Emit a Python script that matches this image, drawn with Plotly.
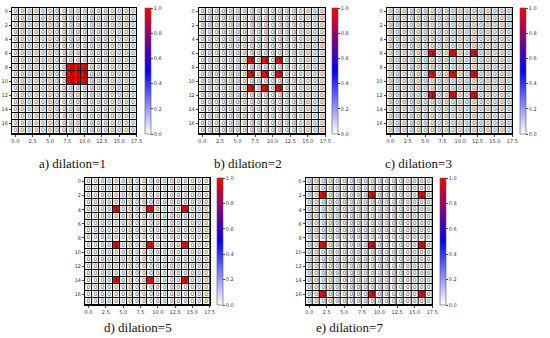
import plotly.graph_objects as go

W, H = 550, 338
N = 18

captions = ["a) dilation=1", "b) dilation=2", "c) dilation=3", "d) dilation=5", "e) dilation=7"]
hot_rows = [[8, 9, 10], [7, 9, 11], [6, 9, 12], [4, 9, 14], [2, 9, 16]]
hot_cols = [[8, 9, 10], [7, 9, 11], [6, 9, 12], [4, 9, 14], [2, 9, 16]]
x_ticks = [0.0, 2.5, 5.0, 7.5, 10.0, 12.5, 15.0, 17.5]
x_ticklabels = ["0.0", "2.5", "5.0", "7.5", "10.0", "12.5", "15.0", "17.5"]
y_ticks = [0, 2, 4, 6, 8, 10, 12, 14, 16]
cbar_ticks = [0.0, 0.2, 0.4, 0.6, 0.8, 1.0]

# layout in pixels: (plot left, plot right, plot top, plot bottom, cbar left, caption x, caption y)
panels = [
    (12, 138, 8, 134, 147, 73, 163),
    (201, 329, 8, 134, 336, 251, 163),
    (391, 518, 8, 134, 526, 423, 163),
    (86, 212, 178, 305, 219, 140, 327),
    (309, 437, 178, 305, 445, 353, 327),
]

colorscale = [[0.0, "#ffffff"], [0.5, "#0000ff"], [1.0, "#ff0000"]]
tfont = dict(size=5, color="#333", family="DejaVu Sans")

fig = go.Figure()
for i, (rows, cols) in enumerate(zip(hot_rows, hot_cols)):
    z = [[0] * N for _ in range(N)]
    for r in rows:
        for c in cols:
            z[r][c] = 1
    l, r_, t, b, cbl, cx, cy = panels[i]
    ax = "" if i == 0 else str(i + 1)
    fig.add_trace(go.Heatmap(
        z=z, x=list(range(N)), y=list(range(N)),
        colorscale=colorscale, zmin=0, zmax=1,
        xgap=1, ygap=1, hoverinfo="skip",
        xaxis="x" + ax, yaxis="y" + ax,
        colorbar=dict(
            x=cbl / W, xanchor="left", y=1 - t / H, yanchor="top",
            len=(b - t) / H, lenmode="fraction", thickness=6, thicknessmode="pixels",
            outlinewidth=0.6, outlinecolor="#555",
            tickvals=cbar_ticks, ticktext=[f"{v:.1f}" for v in cbar_ticks],
            ticks="outside", ticklen=2, tickwidth=0.5,
            tickfont=tfont, xpad=0, ypad=0,
        ),
        showscale=True,
    ))
    xs, ys, ts, cs = [], [], [], []
    for rr in range(N):
        for cc in range(N):
            xs.append(cc)
            ys.append(rr)
            ts.append(str(z[rr][cc]))
            cs.append("#111" if z[rr][cc] else "#555")
    fig.add_trace(go.Scatter(
        x=xs, y=ys, text=ts, mode="text", textposition="middle center",
        textfont=dict(size=6, color=cs, family="DejaVu Sans"),
        xaxis="x" + ax, yaxis="y" + ax, hoverinfo="skip", showlegend=False,
    ))
    fig.layout["xaxis" + ax] = dict(
        domain=[l / W, r_ / W], range=[-0.5, 17.5], anchor="y" + ax,
        tickvals=x_ticks, ticktext=x_ticklabels, ticks="outside", ticklen=2,
        tickfont=tfont,
        showgrid=False, zeroline=False, showline=True, linecolor="black", linewidth=1, mirror=True,
    )
    fig.layout["yaxis" + ax] = dict(
        domain=[1 - b / H, 1 - t / H], range=[17.5, -0.5], anchor="x" + ax,
        tickvals=y_ticks, ticks="outside", ticklen=2,
        tickfont=tfont,
        showgrid=False, zeroline=False, showline=True, linecolor="black", linewidth=1, mirror=True,
    )
    fig.add_annotation(
        text=captions[i], x=cx / W, y=1 - cy / H, xref="paper", yref="paper",
        xanchor="center", yanchor="middle", showarrow=False,
        font=dict(size=13, color="#111", family="Liberation Serif"),
    )

fig.update_layout(
    width=W, height=H, margin=dict(l=0, r=0, t=0, b=0),
    paper_bgcolor="white", plot_bgcolor="black", showlegend=False,
)
fig.write_html("out.html", config={"displayModeBar": False},
               post_script="document.body.style.margin='0';")
